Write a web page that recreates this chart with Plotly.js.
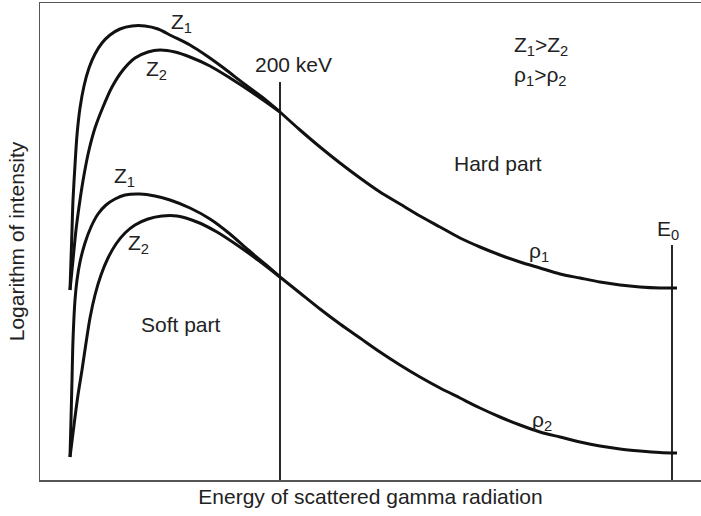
<!DOCTYPE html>
<html>
<head>
<meta charset="utf-8">
<script src="https://cdn.plot.ly/plotly-3.0.1.min.js"></script>
<style>html,body{margin:0;padding:0;background:#fff;}#chart{width:701px;height:516px;}</style>
</head>
<body>
<div id="chart"></div>
<script>
// Energy (arbitrary units) and logarithm of intensity (arbitrary units)
const hardZ1Energy = [30,31,32,33,35,37,40,44,49,55,62,70,80,92,105,118,132,150,167,185,203,222,240];
const hardZ1LogI   = [190,220,250,280,315,345,372,394,412,426,437,445,451,454,454,451,444,435,424,411,397,383,368];
const hardZ2Energy = [30,33,36,40,44,49,55,63,72,83,95,108,120,135,150,170,190,213,240];
const hardZ2LogI   = [190,220,250,280,305,330,352,373,393,410,422,428,430,428,423,414,402,387,368];
const hardTailEnergy = [240,260,280,300,320,340,360,380,400,420,440,460,480,500,520,540,560,580,600,620,637];
const hardTailLogI   = [368,350,333,317,302,288,276,264,253,242,233,225,218,212,206,202,198,195,193,192,192];

const softZ1Energy = [30,31,32,33,35,37,40,45,51,58,66,75,85,100,115,130,150,170,190,207,225,240];
const softZ1LogI   = [23,60,100,140,180,200,218,237,253,266,275,281,285,286,284,280,272,261,246,231,216,203];
const softZ2Energy = [30,34,38,42,46,50,55,61,68,76,85,95,108,122,137,157,177,197,218,240];
const softZ2LogI   = [23,55,85,110,137,162,185,205,222,236,247,255,261,264,264,258,248,235,220,203];
const softTailEnergy = [240,260,280,300,320,340,360,380,400,420,440,460,480,500,520,540,560,580,600,620,637];
const softTailLogI   = [203,187,171,156,142,128,115,103,92,82,72,63,55,48,43,38,34,31,29,27.5,27];

const marker200Energy = [240,240];
const marker200LogI   = [0,398];
const markerE0Energy  = [632,632];
const markerE0LogI    = [0,235];

const FONT = 'Liberation Sans, Arial, Helvetica, sans-serif';
const curveLine = {color:'#111', width:3, shape:'spline', smoothing:0.8};
const vLine = {color:'#111', width:1.8};

function curve(x, y, name){
  return {type:'scatter', mode:'lines', x:x, y:y, name:name, line:curveLine, hoverinfo:'skip'};
}

const traces = [
  curve(hardZ1Energy, hardZ1LogI, 'Z1 hard'),
  curve(hardZ2Energy, hardZ2LogI, 'Z2 hard'),
  curve(hardTailEnergy, hardTailLogI, 'ρ1'),
  curve(softZ1Energy, softZ1LogI, 'Z1 soft'),
  curve(softZ2Energy, softZ2LogI, 'Z2 soft'),
  curve(softTailEnergy, softTailLogI, 'ρ2'),
  {type:'scatter', mode:'lines', x:marker200Energy, y:marker200LogI, line:vLine, hoverinfo:'skip', name:'200 keV'},
  {type:'scatter', mode:'lines', x:markerE0Energy, y:markerE0LogI, line:vLine, hoverinfo:'skip', name:'E0'}
];

function ann(text, x, y){
  return {text:text, x:x, y:y, xref:'x', yref:'y', showarrow:false,
          xanchor:'center', yanchor:'middle', font:{family:FONT, size:21, color:'#222'}};
}

const layout = {
  width:701, height:516,
  margin:{l:40, r:0, t:3, b:36, pad:0},
  paper_bgcolor:'#fff', plot_bgcolor:'#fff',
  showlegend:false,
  font:{family:FONT, size:21, color:'#222'},
  xaxis:{range:[0,661], showgrid:false, zeroline:false, showticklabels:false, ticks:'',
         showline:true, mirror:true, linecolor:'#555', linewidth:1.5, fixedrange:true,
         title:{text:'Energy of scattered gamma radiation', standoff:9, font:{family:FONT, size:21, color:'#222'}}},
  yaxis:{range:[0,477], showgrid:false, zeroline:false, showticklabels:false, ticks:'',
         showline:true, linecolor:'#555', linewidth:1.5, fixedrange:true,
         title:{text:'Logarithm of intensity', standoff:8, font:{family:FONT, size:21, color:'#222'}}},
  annotations:[
    ann('Z<sub>1</sub>', 141, 457),
    ann('Z<sub>2</sub>', 116, 410),
    ann('200 keV', 253, 416),
    ann('Z<sub>1</sub>>Z<sub>2</sub>', 501, 434),
    ann('ρ<sub>1</sub>>ρ<sub>2</sub>', 500, 404),
    ann('Hard part', 458, 317),
    ann('Soft part', 141, 156),
    ann('E<sub>0</sub>', 628, 250),
    ann('ρ<sub>1</sub>', 499, 228),
    ann('ρ<sub>2</sub>', 502, 59),
    ann('Z<sub>1</sub>', 84, 303),
    ann('Z<sub>2</sub>', 98, 236)
  ]
};

Plotly.newPlot('chart', traces, layout, {staticPlot:true, displayModeBar:false});
</script>
</body>
</html>
